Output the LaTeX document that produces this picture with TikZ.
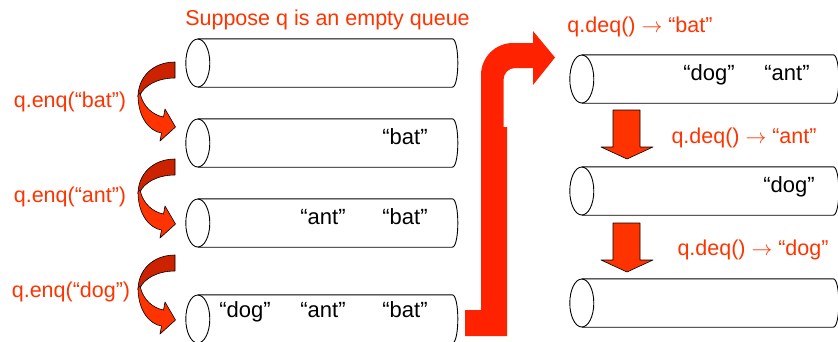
\documentclass[tikz,border=0pt]{standalone}
\usepackage{fontspec}
\setmainfont{Liberation Sans}
\definecolor{qred}{RGB}{255,51,0}
\definecolor{qdark}{RGB}{204,34,0}
\definecolor{qbig}{RGB}{255,34,0}
\tikzset{
  cylbox/.style={rectangle, draw=none, minimum width=254pt, minimum height=48pt, inner sep=0pt},
  cylline/.style={draw=black, line width=0.9pt},
  redlbl/.style={text=qred, font=\fontsize{21.5pt}{25pt}\selectfont, inner sep=0pt, anchor=base},
  item/.style={text=black, font=\fontsize{22pt}{26pt}\selectfont, inner sep=0pt, anchor=base},
  arrowline/.style={draw=black, line width=0.6pt, line join=round},
  curvearrow/.pic={
    \path[fill=qdark, arrowline] (0,0) .. controls (-22,0) and (-37,15) .. (-37,35)
      -- (-35,33) .. controls (-31,24) and (-18,16) .. (0,16) -- cycle;
    \path[fill=qred, arrowline] (-37,33) .. controls (-37,55) and (-26,69) .. (-13.5,71)
      -- (-15,79) -- (0.5,65) -- (-10,47) -- (-11.5,55)
      .. controls (-22,53) and (-32,45) .. (-35,31) -- cycle;
  },
  downarrow/.pic={
    \path[fill=qred, arrowline] (0,0) -- (27,0) -- (27,37) -- (40,37) -- (14,49)
      -- (-12,37) -- (0,37) -- cycle;
  }
}
\newcommand\drawqcyl[1]{%
  \draw[cylline] (#1.west) ellipse [x radius=12pt, y radius=24pt];
  \draw[cylline] (#1.north west) -- (#1.north east)
    .. controls ([xshift=7.5pt]#1.north east) and ([xshift=7.5pt]#1.south east) .. (#1.south east)
    -- (#1.south west);
}
\newcommand\qarr{$\rightarrow$}
\begin{document}
\begin{tikzpicture}[x=1pt, y=-1pt]
\useasboundingbox (0,0) rectangle (838,341);

% left queues
\node[cylbox] (q0) at (325,63) {};
\node[cylbox] (q1) at (325,143) {};
\node[cylbox] (q2) at (325,223) {};
\node[cylbox] (q3) at (325,319) {};
% right queues
\node[cylbox, minimum width=251pt] (r0) at (707.5,79) {};
\node[cylbox, minimum width=251pt] (r1) at (707.5,191) {};
\node[cylbox, minimum width=251pt] (r2) at (707.5,303) {};

\drawqcyl{q0}
\drawqcyl{q1}
\drawqcyl{q2}
\drawqcyl{q3}
\drawqcyl{r0}
\drawqcyl{r1}
\drawqcyl{r2}

% contents
\node[item] (q1b) at (405,144) {“bat”};
\node[item] (q2a) at (323,224) {“ant”};
\node[item] (q2b) at (405,224) {“bat”};
\node[item] (q3d) at (245,317) {“dog”};
\node[item] (q3a) at (323,317) {“ant”};
\node[item] (q3b) at (405,317) {“bat”};
\node[item] (r0d) at (709,80) {“dog”};
\node[item] (r0a) at (787,80) {“ant”};
\node[item] (r1d) at (789,192) {“dog”};

% labels
\node[redlbl] (title) at (327.5,25) {Suppose q is an empty queue};
\node[redlbl] (e1) at (70,107) {q.enq(“bat”)};
\node[redlbl] (e2) at (70,202) {q.enq(“ant”)};
\node[redlbl] (e3) at (71,297) {q.enq(“dog”)};
\node[redlbl] (d1) at (640,32) {q.deq() \qarr{} “bat”};
\node[redlbl] (d2) at (744,143) {q.deq() \qarr{} “ant”};
\node[redlbl] (d3) at (753,255) {q.deq() \qarr{} “dog”};

% curved enqueue arrows
\pic at (175,62) {curvearrow};
\pic at (175,159) {curvearrow};
\pic at (175,255) {curvearrow};

% dequeue arrows
\pic at (613,110) {downarrow};
\pic at (613,223) {downarrow};

% big bent arrow
\fill[qbig] (465,336) -- (465,310) -- (481,310) -- (481,75)
  .. controls (481,57.3) and (495.3,43) .. (513,43) -- (533,43) -- (533,31)
  -- (555,57.5) -- (533,85) -- (533,68) -- (515,68)
  .. controls (508.4,68) and (503.5,73.4) .. (503.5,80) -- (503.5,127)
  -- (507,127) -- (507,336) -- cycle;
\end{tikzpicture}
\end{document}
